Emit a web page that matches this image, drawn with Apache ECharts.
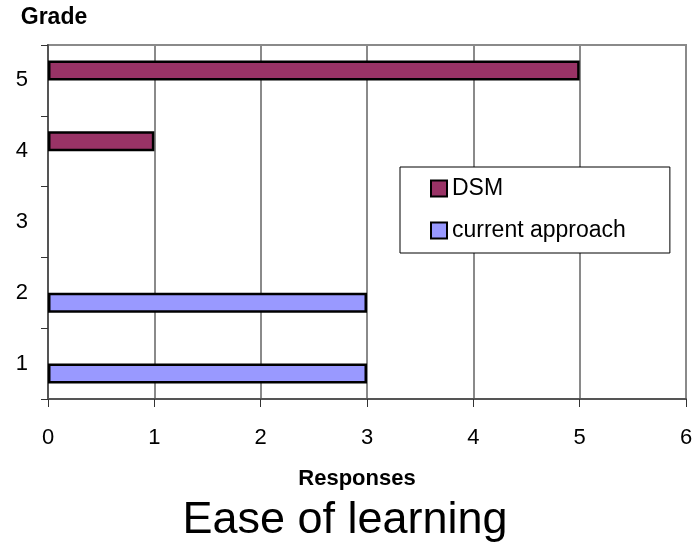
<!DOCTYPE html>
<html>
<head>
<meta charset="utf-8">
<script src="https://cdn.jsdelivr.net/npm/echarts@6/dist/echarts.min.js"></script>
<style>
  html, body { margin: 0; padding: 0; background: #fff; }
  #chart { width: 696px; height: 546px; }
</style>
</head>
<body>
<div id="chart"></div>
<script>
// Grades on the vertical axis, number of responses per approach
const grades = ['1', '2', '3', '4', '5'];
const dsm = [0, 0, 0, 1, 5];
const currentApproach = [3, 3, 0, 0, 0];
const responseTicks = [0, 1, 2, 3, 4, 5, 6];

const FONT = '"Liberation Sans", Arial, sans-serif';

const chart = echarts.init(document.getElementById('chart'));

const barStyle = (color) => ({
  color: color,
  borderColor: '#000',
  borderWidth: 2.5
});

// Zero counts get no outline so they leave no stray stroke on the axis
const withZeroOutlineHidden = (values) =>
  values.map(v => v === 0 ? { value: v, itemStyle: { borderWidth: 0 } } : v);

chart.setOption({
  backgroundColor: '#fff',
  animation: false,
  grid: {
    left: 48, right: 10, top: 45, bottom: 147,
    show: true,
    borderColor: '#8a8a8a',
    borderWidth: 2,
    backgroundColor: '#fff'
  },
  legend: {
    orient: 'vertical',
    left: 400, top: 167,
    data: ['DSM', 'current approach'],
    icon: 'rect',
    itemWidth: 16, itemHeight: 16,
    itemGap: 19,
    padding: [10, 44, 11, 30],
    borderColor: '#000', borderWidth: 1,
    backgroundColor: '#fff',
    itemStyle: { borderColor: '#000', borderWidth: 2 },
    textStyle: { fontFamily: FONT, fontSize: 23, color: '#000' }
  },
  xAxis: {
    type: 'value',
    min: responseTicks[0],
    max: responseTicks[responseTicks.length - 1],
    interval: 1,
    axisLine: { show: true, lineStyle: { color: '#555', width: 2 } },
    axisTick: { show: true, length: 8, lineStyle: { color: '#333', width: 1 } },
    splitLine: { show: true, lineStyle: { color: '#8a8a8a', width: 2 } },
    axisLabel: { margin: 28, fontFamily: FONT, fontSize: 22, color: '#000' }
  },
  yAxis: {
    type: 'category',
    data: grades,
    axisLine: { show: true, lineStyle: { color: '#555', width: 2 } },
    axisTick: { show: true, length: 7, lineStyle: { color: '#333', width: 1 } },
    axisLabel: { margin: 20, fontFamily: FONT, fontSize: 22, color: '#000' }
  },
  series: [
    {
      name: 'DSM',
      type: 'bar',
      data: withZeroOutlineHidden(dsm),
      barWidth: 20,
      barGap: '0%',
      itemStyle: barStyle('#993366')
    },
    {
      name: 'current approach',
      type: 'bar',
      data: withZeroOutlineHidden(currentApproach),
      barWidth: 20,
      barGap: '0%',
      itemStyle: barStyle('#9999FF')
    }
  ],
  graphic: [
    {
      type: 'text', x: 54, y: 18,
      style: { text: 'Grade', font: 'bold 23px ' + FONT, fill: '#000', textAlign: 'center', textVerticalAlign: 'middle' }
    },
    {
      type: 'text', x: 357, y: 479,
      style: { text: 'Responses', font: 'bold 22px ' + FONT, fill: '#000', textAlign: 'center', textVerticalAlign: 'middle' }
    },
    {
      type: 'text', x: 345, y: 521,
      style: { text: 'Ease of learning', font: '45px ' + FONT, fill: '#000', textAlign: 'center', textVerticalAlign: 'middle' }
    }
  ]
});
</script>
</body>
</html>
